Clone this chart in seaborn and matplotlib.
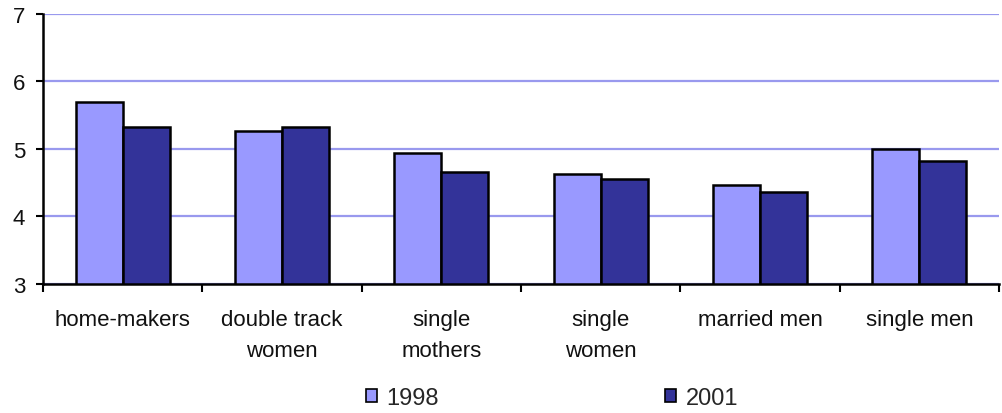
import pandas as pd
import numpy as np
import matplotlib
matplotlib.use('Agg')
import matplotlib.pyplot as plt
import seaborn as sns
from matplotlib.patches import Patch

groups = ['home-makers', 'double track\nwomen', 'single\nmothers',
          'single\nwomen', 'married men', 'single men']
years = ['1998', '2001']
vals_1998 = [5.69, 5.27, 4.94, 4.63, 4.47, 5.00]
vals_2001 = [5.32, 5.32, 4.66, 4.55, 4.36, 4.82]
colors = ['#9999FF', '#333399']

df = pd.DataFrame({
    'group': groups * 2,
    'year': [years[0]] * len(groups) + [years[1]] * len(groups),
    'value': vals_1998 + vals_2001,
})

sns.set_style('white')
plt.rcParams['font.family'] = ['Liberation Sans', 'DejaVu Sans']

fig = plt.figure(figsize=(10.02, 4.14), dpi=100)
ax = fig.add_axes([0.043, 0.3116, 0.954, 0.6522])

sns.barplot(data=df, x='group', y='value', hue='year', palette=colors,
            saturation=1, width=0.59, edgecolor='black', linewidth=1.8,
            ax=ax, legend=False, zorder=3)

ax.set_ylim(3, 7)
ax.set_xlim(-0.5, len(groups) - 0.5)
ax.set_yticks([3, 4, 5, 6, 7])
ax.yaxis.grid(True, color='#9999EE', linewidth=1.6, zorder=0)
ax.set_axisbelow(True)
ax.set_xlabel('')
ax.set_ylabel('')

for s in ['top', 'right']:
    ax.spines[s].set_visible(False)
for s in ['left', 'bottom']:
    ax.spines[s].set_color('black')
    ax.spines[s].set_linewidth(1.8)
    ax.spines[s].set_zorder(4)

ax.tick_params(axis='y', direction='out', length=5, width=1.5,
               labelsize=16, pad=8, left=True, colors='black',
               labelcolor='#111111')
ax.tick_params(axis='x', which='major', length=0, labelsize=16, pad=18,
               colors='#111111')
ax.set_xticks(np.arange(-0.5, len(groups), 1), minor=True)
ax.tick_params(axis='x', which='minor', direction='out', length=6,
               width=1.5, bottom=True, color='black')
for lab in ax.get_xticklabels():
    lab.set_linespacing(1.65)

handles = [Patch(facecolor=c, edgecolor='black', linewidth=1.2, label=y)
           for c, y in zip(colors, years)]
fig.legend(handles=handles, loc='center', bbox_to_anchor=(0.551, 0.037),
           ncol=2, frameon=False, fontsize=17, handlelength=0.45,
           handleheight=0.45, handletextpad=0.4, columnspacing=9.6)

fig.savefig('out.png', dpi=100)
